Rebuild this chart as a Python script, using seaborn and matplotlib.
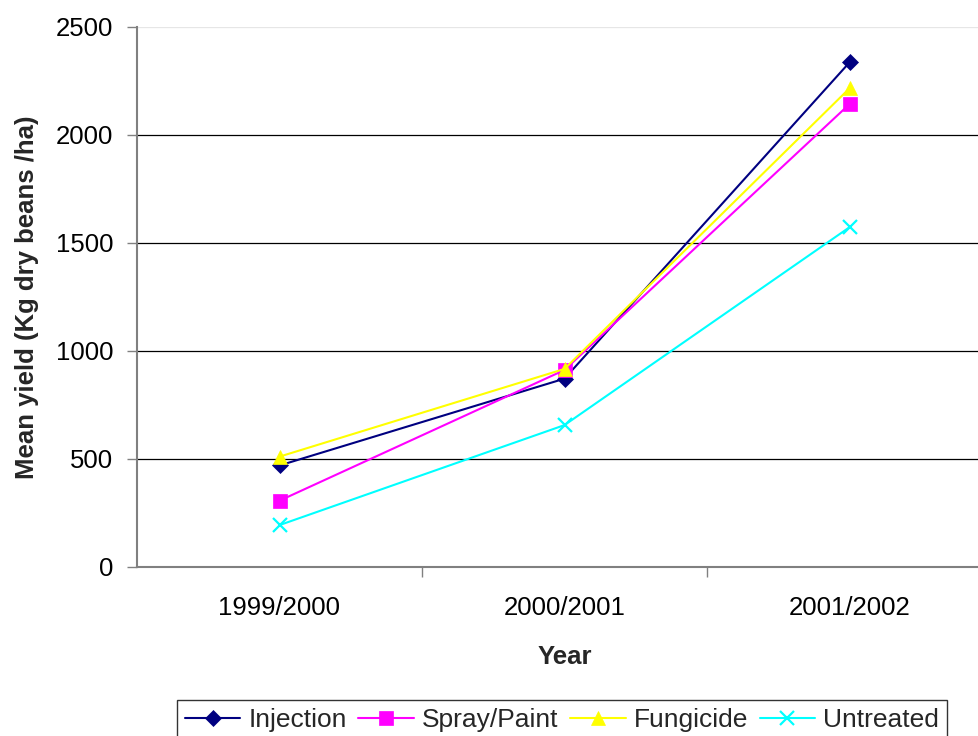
import matplotlib
matplotlib.use("Agg")
import matplotlib.pyplot as plt
import seaborn as sns
import pandas as pd

years = ["1999/2000", "2000/2001", "2001/2002"]
injection = [470, 872, 2336]
spray_paint = [307, 912, 2143]
fungicide = [511, 917, 2216]
untreated = [194, 657, 1573]

series = ["Injection", "Spray/Paint", "Fungicide", "Untreated"]
values = [injection, spray_paint, fungicide, untreated]
colors = ["#000080", "#FF00FF", "#FFFF00", "#00FFFF"]
markers = ["D", "s", "^", "x"]
msizes = [8.5, 9.5, 10.5, 10]

FS = 18.5

sns.set_theme(style="white")
plt.rcParams["font.family"] = ["Liberation Sans", "DejaVu Sans"]

rows = []
for name, vals in zip(series, values):
    for i, v in enumerate(vals):
        rows.append({"series": name, "pos": i, "year": years[i], "yield": v})
df = pd.DataFrame(rows)

fig = plt.figure(figsize=(9.79, 7.36), dpi=100)
ax = fig.add_axes([137 / 979, 1 - 567 / 736, (992 - 137) / 979, 540 / 736])

for name, c, m, ms in zip(series, colors, markers, msizes):
    sub = df[df["series"] == name]
    sns.lineplot(data=sub, x="pos", y="yield", ax=ax, color=c, marker=m,
                 markersize=ms, markeredgecolor=c, markerfacecolor=c,
                 markeredgewidth=1.6 if m == "x" else 0.5,
                 linewidth=1.5, label=name, legend=False, zorder=3)

ax.set_xlim(-0.5, 2.5)
ax.set_ylim(0, 2500)
ax.set_yticks([0, 500, 1000, 1500, 2000, 2500])
# horizontal gridlines; the top edge of the plot area stays faint
for yv in [500, 1000, 1500, 2000]:
    ax.axhline(yv, color="black", linewidth=0.9, zorder=1)
ax.axhline(2500, color="#e6e6e6", linewidth=0.9, zorder=1)

# category labels centred, tick marks between categories
ax.set_xticks([0, 1, 2])
ax.set_xticklabels(years)
ax.tick_params(axis="x", length=0, labelsize=FS, pad=21, colors="black")
ax.set_xticks([0.5, 1.5], minor=True)
ax.tick_params(axis="x", which="minor", length=7, width=1, color="#808080", direction="out", bottom=True)
ax.tick_params(axis="y", length=7, width=1, color="#808080", direction="out", left=True,
               labelsize=FS, pad=10, labelcolor="black")

for side in ["top", "right"]:
    ax.spines[side].set_visible(False)
for side in ["left", "bottom"]:
    ax.spines[side].set_color("#808080")
    ax.spines[side].set_linewidth(1.5)

ax.set_xlabel("Year", fontsize=FS, fontweight="bold", labelpad=18)
ax.set_ylabel("Mean yield (Kg dry beans /ha)", fontsize=FS, fontweight="bold", labelpad=12)

handles, labels = ax.get_legend_handles_labels()
leg = fig.legend(handles, labels, loc="upper center", bbox_to_anchor=(0.574, 1 - 700 / 736),
                 ncol=4, fontsize=19, frameon=True, fancybox=False, handlelength=2.1,
                 handletextpad=0.3, columnspacing=0.45, borderpad=0.3, borderaxespad=0)
leg.get_frame().set_edgecolor("black")
leg.get_frame().set_linewidth(1.0)

fig.savefig("out.png", dpi=100)
